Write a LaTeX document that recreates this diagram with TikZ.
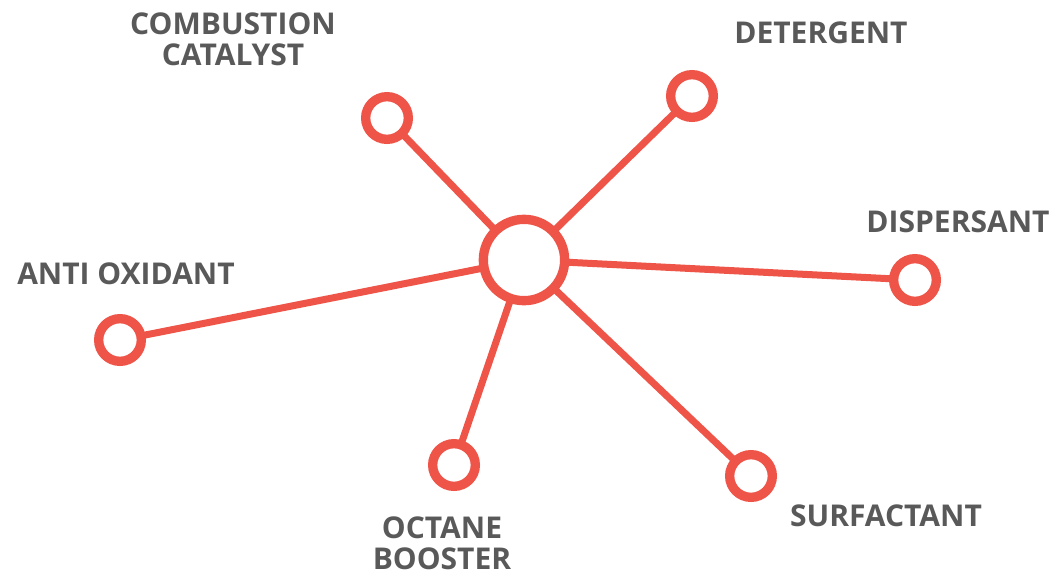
\documentclass[tikz,border=0pt]{standalone}
\usepackage{fontspec}
\setmainfont{Open Sans}
\definecolor{coral}{RGB}{238,84,72}
\definecolor{txtgray}{RGB}{89,89,89}
\tikzstyle{hubx}=[circle,draw=coral,fill=white,line width=7pt,minimum size=61pt,inner sep=0pt,outer sep=0pt]
\tikzstyle{leaf}=[circle,draw=coral,fill=white,line width=7pt,minimum size=32pt,inner sep=0pt,outer sep=0pt]
\tikzstyle{lbl}=[text=txtgray,font=\bfseries\fontsize{22.5}{23.5}\selectfont,align=center,inner sep=0pt]
\tikzstyle{spoke}=[draw=coral,line width=5.25pt]

\begin{document}
\begin{tikzpicture}[x=0.75pt,y=-0.75pt]
	\useasboundingbox (0,0) rectangle (1058,576);
	\node[hubx] (hub) at (524,260) {};
	\node[leaf] (cat) at (387,118) {};
	\node[leaf] (det) at (692,96) {};
	\node[leaf] (disp) at (915,280) {};
	\node[leaf] (anti) at (120,340) {};
	\node[leaf] (oct) at (454,465) {};
	\node[leaf] (surf) at (751,476) {};
	\foreach \n in {cat,det,disp,anti,oct,surf}
		\draw[spoke] (hub) -- (\n);
	\node[lbl] (catlbl) at (233,39) {COMBUSTION\\CATALYST};
	\node[lbl] (detlbl) at (821,33) {DETERGENT};
	\node[lbl] (displbl) at (958,222) {DISPERSANT};
	\node[lbl] (antilbl) at (126,274) {ANTI OXIDANT};
	\node[lbl] (octlbl) at (442,543) {OCTANE\\BOOSTER};
	\node[lbl] (surflbl) at (886,516) {SURFACTANT};
\end{tikzpicture}
\end{document}
